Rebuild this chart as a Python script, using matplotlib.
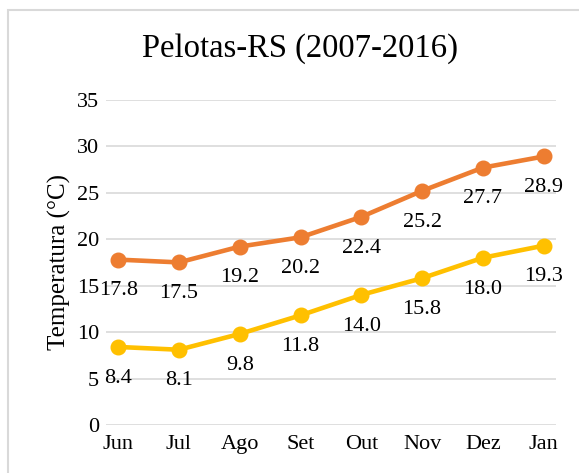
import matplotlib.pyplot as plt
from matplotlib.patches import Rectangle

plt.rcParams['font.family'] = ['Liberation Serif', 'DejaVu Serif']

months = ['Jun', 'Jul', 'Ago', 'Set', 'Out', 'Nov', 'Dez', 'Jan']
t_max = [17.8, 17.5, 19.2, 20.2, 22.4, 25.2, 27.7, 28.9]
t_min = [8.4, 8.1, 9.8, 11.8, 14.0, 15.8, 18.0, 19.3]
yticks = [0, 5, 10, 15, 20, 25, 30, 35]

fig = plt.figure(figsize=(5.79, 4.73), dpi=100)
ax = fig.add_axes([0.183, 0.1015, 0.777, 0.6875])

# chart border
fig.patches.append(Rectangle((8 / 579, -0.1), 1.2, 1.1 - 10 / 473,
                             transform=fig.transFigure, fill=False,
                             edgecolor='#d9d9d9', linewidth=1.5))

x = list(range(len(months)))
for vals, color in [(t_max, '#ED7D31'), (t_min, '#FFC000')]:
    ax.plot(x, vals, color=color, linewidth=3.3, marker='o', markersize=10.5, zorder=3)
    for xi, v in zip(x, vals):
        ax.annotate(f'{v:.1f}', (xi, v), xytext=(0, -22.5), textcoords='offset points',
                    ha='center', va='center', fontsize=16)

ax.set_ylim(0, 35)
ax.set_xlim(-0.2, 7.2)
ax.set_yticks(yticks)
ax.set_xticks(x)
ax.set_xticklabels(months)
ax.tick_params(axis='both', length=0, labelsize=16)
ax.tick_params(axis='y', pad=5)
ax.tick_params(axis='x', pad=7)
ax.grid(axis='y', color='#d9d9d9', linewidth=1.2)
ax.set_axisbelow(True)
for s in ax.spines.values():
    s.set_visible(False)

ax.set_ylabel('Temperatura (°C)', fontsize=18, labelpad=4)
fig.text(0.518, 0.898, 'Pelotas-RS (2007-2016)', ha='center', va='center', fontsize=23.5)

fig.savefig('out.png', dpi=100)
